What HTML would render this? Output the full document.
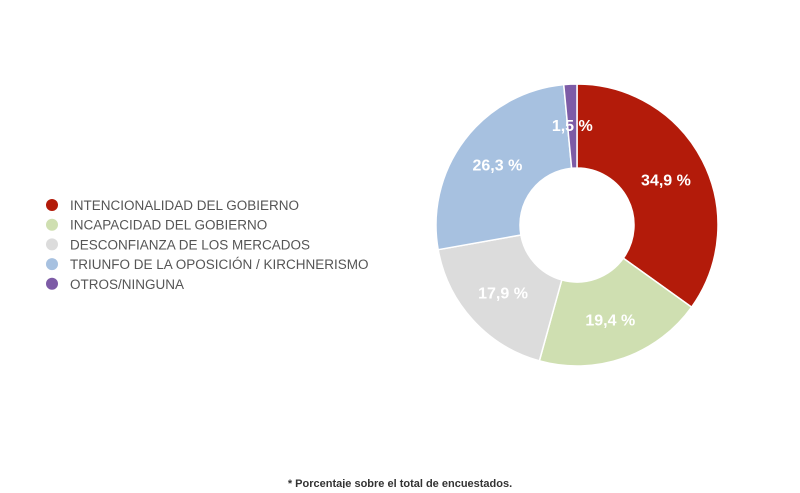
<!DOCTYPE html>
<html><head><meta charset="utf-8"><style>
body{margin:0;background:#fff;width:800px;height:488px;overflow:hidden;font-family:"Liberation Sans",sans-serif}
</style></head><body>
<svg width="800" height="488">
<g id="legend"></g>
<g id="slices"></g>
<g id="labels"></g>
<text x="400" y="487" text-anchor="middle" font-size="11" font-weight="bold" fill="#333">* Porcentaje sobre el total de encuestados.</text>
</svg>
<script>
const categories=["INTENCIONALIDAD DEL GOBIERNO","INCAPACIDAD DEL GOBIERNO","DESCONFIANZA DE LOS MERCADOS","TRIUNFO DE LA OPOSICIÓN / KIRCHNERISMO","OTROS/NINGUNA"];
const values=[34.9,19.4,17.9,26.3,1.5];
const valueLabels=["34,9 %","19,4 %","17,9 %","26,3 %","1,5 %"];
const colors=["#b31b0a","#cfdfb1","#dcdcdc","#a7c1e0","#7d5ba6"];
const NS="http://www.w3.org/2000/svg";
const cx=577,cy=225,R=141,r=57,LR=100;
const total=values.reduce((a,b)=>a+b,0);
function pt(a,rad){return [cx+rad*Math.sin(a),cy-rad*Math.cos(a)];}
let acc=0;
const sg=document.getElementById('slices'),lg=document.getElementById('labels'),leg=document.getElementById('legend');
values.forEach((v,i)=>{
 const a0=acc/total*2*Math.PI;acc+=v;const a1=acc/total*2*Math.PI;
 const big=(a1-a0)>Math.PI?1:0;
 const [x0,y0]=pt(a0,R),[x1,y1]=pt(a1,R),[x2,y2]=pt(a1,r),[x3,y3]=pt(a0,r);
 const p=document.createElementNS(NS,'path');
 p.setAttribute('d',`M${x0},${y0}A${R},${R} 0 ${big} 1 ${x1},${y1}L${x2},${y2}A${r},${r} 0 ${big} 0 ${x3},${y3}Z`);
 p.setAttribute('fill',colors[i]);p.setAttribute('stroke','#fff');p.setAttribute('stroke-width','1.5');
 
 
 sg.appendChild(p);
 const [lx,ly]=pt((a0+a1)/2,LR);
 const t=document.createElementNS(NS,'text');
 t.setAttribute('x',lx);t.setAttribute('y',ly+6);t.setAttribute('text-anchor','middle');
 t.setAttribute('font-size','16');t.setAttribute('font-weight','bold');t.setAttribute('fill','#fff');
 t.textContent=valueLabels[i];
 
 
 lg.appendChild(t);
 const y=205+i*19.7;
 const c=document.createElementNS(NS,'circle');
 c.setAttribute('cx',52);c.setAttribute('cy',y);c.setAttribute('r',6);c.setAttribute('fill',colors[i]);
 
 
 leg.appendChild(c);
 const lt=document.createElementNS(NS,'text');
 lt.setAttribute('x',70);lt.setAttribute('y',y+5);lt.setAttribute('font-size','13.5');lt.setAttribute('fill','#555');
 lt.textContent=categories[i];
 
 
 leg.appendChild(lt);
});
</script>
</body></html>
